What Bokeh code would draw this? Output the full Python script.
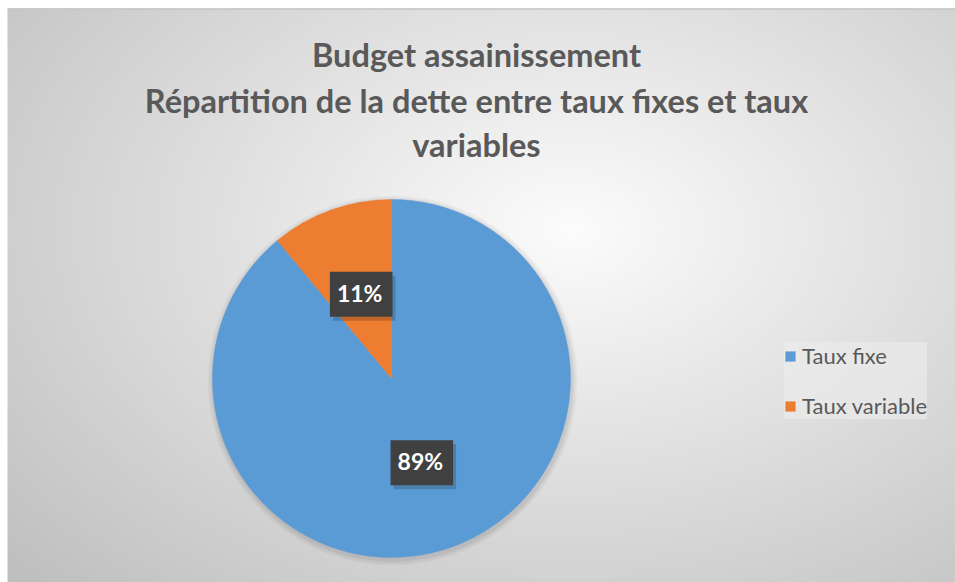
import numpy as np
from bokeh.plotting import figure
from bokeh.models import Range1d, Legend, LegendItem, ColumnDataSource
from bokeh.embed import file_html
from bokeh.resources import INLINE
from bokeh.core.properties import value

# ---- data ----
categories = ["Taux fixe", "Taux variable"]
shares = [89, 11]
colors = ["#5B9BD5", "#ED7D31"]
title_lines = ["Budget assainissement",
               "Répartition de la dette entre taux fixes et taux",
               "variables"]

W, H = 955, 582
p = figure(width=W, height=H, x_range=Range1d(0, W), y_range=Range1d(0, H),
           output_backend="svg", toolbar_location=None, min_border=0)
p.axis.visible = False
p.grid.visible = False
p.outline_line_color = None
p.background_fill_color = "#ffffff"
p.border_fill_color = "#ffffff"

# ---- radial gradient background (chart area) ----
L, T = 7, 8
cw, ch = W - L, H - T
yy, xx = np.mgrid[0:ch, 0:cw]
xx = xx + L
gcx, gcy = 570, H - 230
d = np.sqrt(((xx - gcx) / 600.0) ** 2 + ((yy - gcy) / 400.0) ** 2)
v = np.clip(252 - 48 * d, 185, 252).astype(np.uint8)
img = np.empty((ch, cw), dtype=np.uint32)
view = img.view(dtype=np.uint8).reshape((ch, cw, 4))
view[..., 0] = v
view[..., 1] = v
view[..., 2] = v
view[..., 3] = 255
p.image_rgba(image=[img], x=L, y=0, dw=cw, dh=ch)
p.segment(x0=[L], y0=[ch - 0.5], x1=[W], y1=[ch - 0.5], line_color="#c4c4c4", line_width=1.5)

# ---- pie ----
cx, cy, R = 391, H - 378, 179
total = float(sum(shares))
fr = np.array(shares) / total
cum = np.concatenate([[0], np.cumsum(fr)])
start = np.pi / 2 - 2 * np.pi * cum[:-1]
end = np.pi / 2 - 2 * np.pi * cum[1:]
mid = (start + end) / 2

# soft shadow
for k, a in [(6, 0.03), (4, 0.04), (2, 0.05)]:
    p.circle(x=[cx + 1], y=[cy - 2], radius=R + k, fill_color="#000000",
             fill_alpha=a, line_color=None)

renderers = []
for i, cat in enumerate(categories):
    src = ColumnDataSource(dict(x=[cx], y=[cy], s=[start[i]], e=[end[i]]))
    r = p.wedge(x="x", y="y", radius=R, start_angle="s", end_angle="e",
                direction="clock", fill_color=colors[i], line_color=colors[i],
                line_width=0.5, source=src)
    renderers.append(r)

# ---- data labels ----
lx = cx + 0.5 * R * np.cos(mid)
ly = cy + 0.5 * R * np.sin(mid)
labels = ["%d%%" % round(f * 100) for f in fr]
p.text(x=list(lx + 3), y=list(ly - 4), text=labels, text_align="center",
       text_baseline="middle", text_font=value("Lato"), text_font_style="bold",
       text_font_size="23px", text_color="#000000", text_alpha=0.0,
       background_fill_color="#000000", background_fill_alpha=0.18,
       padding=[7, 10, 7, 10])
p.text(x=list(lx), y=list(ly), text=labels, text_align="center",
       text_baseline="middle", text_font=value("Lato"), text_font_style="bold",
       text_font_size="23px", text_color="#ffffff",
       background_fill_color="#404040", background_fill_alpha=1.0,
       padding=[7, 10, 7, 10])

# ---- title ----
p.text(x=[476] * 3, y=[H - 54, H - 100, H - 144], text=title_lines, text_align="center",
       text_baseline="middle", text_font=value("Lato"), text_font_style="bold",
       text_font_size="32.5px", text_color="#595959")

# ---- legend ----
items = [LegendItem(label=categories[i], renderers=[renderers[i]]) for i in range(len(categories))]
legend = Legend(items=items, location=(784, 163), orientation="vertical",
                glyph_width=12, glyph_height=12, label_standoff=6,
                label_height=26, spacing=23, padding=16, margin=0,
                label_text_font="Lato", label_text_font_size="22px",
                label_text_color="#595959",
                background_fill_color="#ececec", background_fill_alpha=0.6,
                border_line_color=None)
p.add_layout(legend, "center")

open("out.html", "w").write(file_html(p, INLINE))
